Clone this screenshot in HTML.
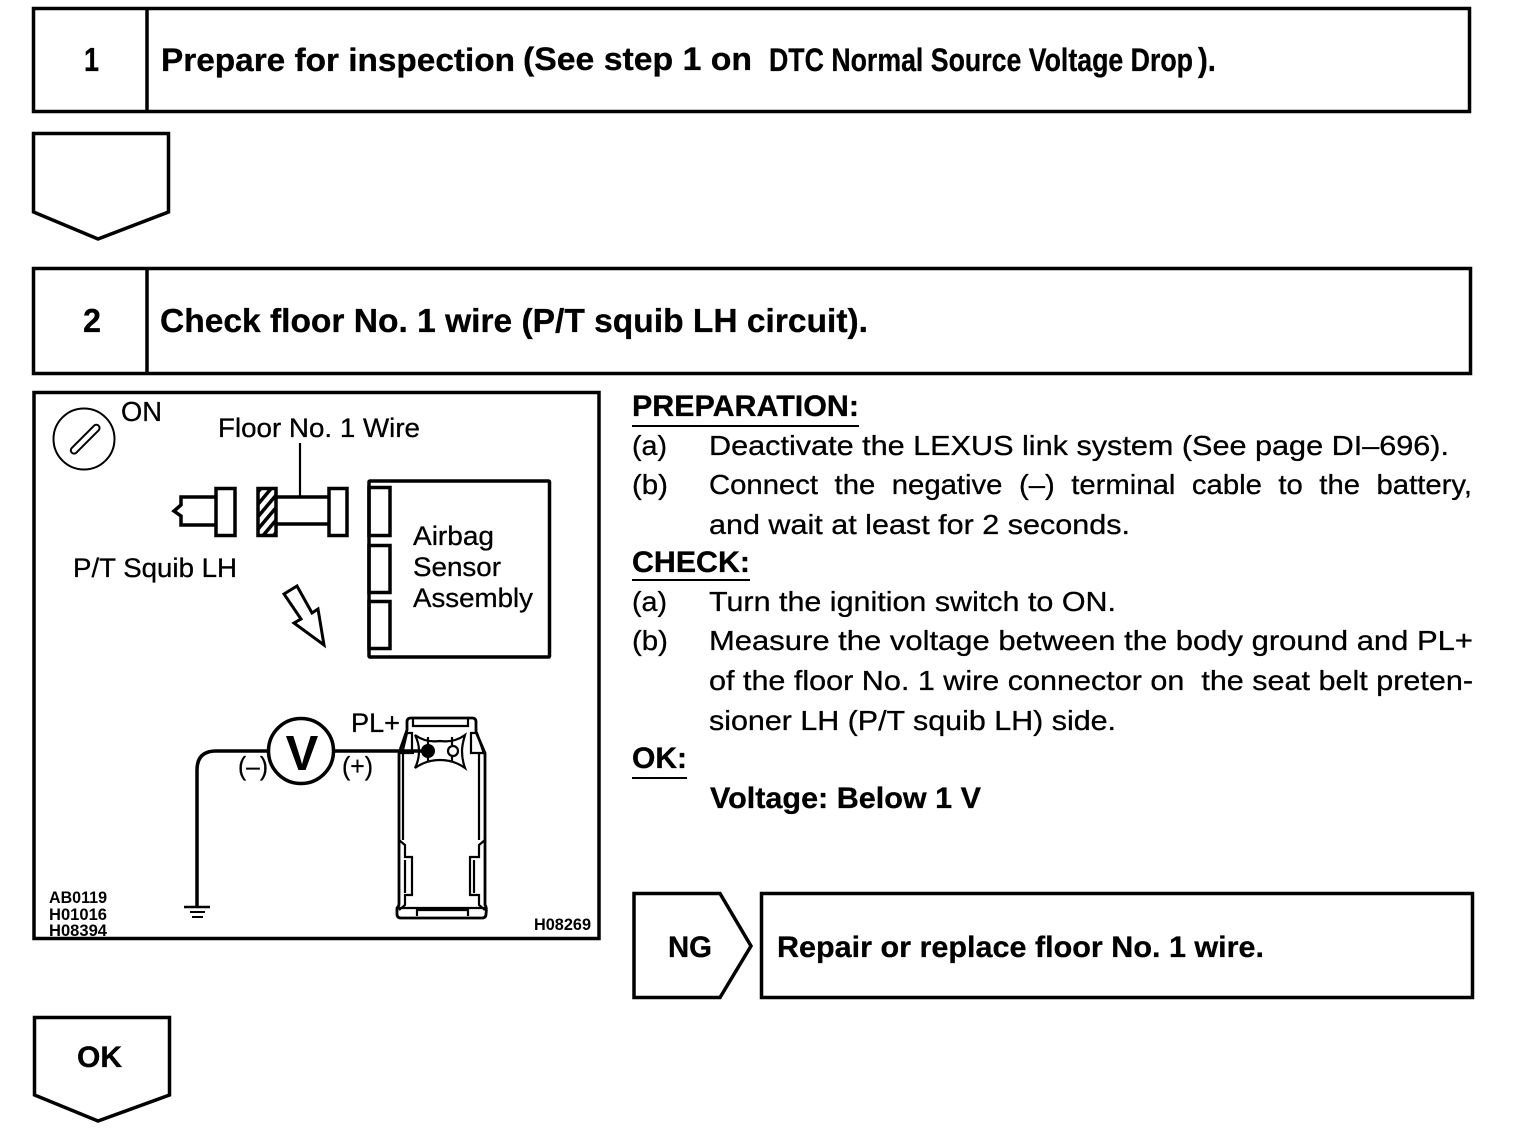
<!DOCTYPE html>
<html lang="en">
<head>
<meta charset="utf-8">
<title>Floor No. 1 wire inspection</title>
<style>
html,body{margin:0;padding:0;background:#fff}
svg{display:block}
text{font-family:"Liberation Sans",sans-serif;fill:#000;stroke:#000;stroke-width:.3}
.h{font-weight:bold;font-size:33px}
.n{font-weight:bold;font-size:30px}
.u{font-weight:bold;font-size:30px}
.b{font-size:28px}
.d{font-size:27px}
.s{font-size:17px;font-weight:bold;stroke-width:0}
.l{fill:none;stroke:#000;stroke-width:3.5}
.t{fill:none;stroke:#000;stroke-width:2}
</style>
</head>
<body>
<svg width="1520" height="1134" viewBox="0 0 1520 1134" xmlns="http://www.w3.org/2000/svg">
<defs>
<pattern id="hatch" width="8" height="8" patternUnits="userSpaceOnUse" patternTransform="rotate(40)">
<rect width="8" height="8" fill="#fff"/>
<rect width="3.500" height="8" fill="#000"/>
</pattern>
</defs>

<!-- Step 1 -->
<rect class="l" x="33.500" y="8.500" width="1436" height="103"/>
<line class="l" x1="147" y1="8" x2="147" y2="112"/>
<text class="h" x="84" y="71" textLength="15" lengthAdjust="spacingAndGlyphs">1</text>
<text class="n" x="161" y="71" textLength="354" lengthAdjust="spacingAndGlyphs" style="font-size:32px">Prepare for inspection</text>
<text class="n" x="523" y="70" textLength="229" lengthAdjust="spacingAndGlyphs" style="font-size:32px">(See step 1 on</text>
<text class="h" x="769" y="71" textLength="424" lengthAdjust="spacingAndGlyphs" style="font-size:32px">DTC Normal Source Voltage Drop</text>
<text class="h" x="1198" y="71" textLength="18" lengthAdjust="spacingAndGlyphs">).</text>

<polygon class="l" points="33.500,133.500 168.500,133.500 168.500,212 98,239 33.500,212"/>

<!-- Step 2 -->
<rect class="l" x="33.500" y="268.500" width="1437" height="105"/>
<line class="l" x1="147" y1="268" x2="147" y2="374"/>
<text class="h" x="83" y="332" textLength="18" lengthAdjust="spacingAndGlyphs">2</text>
<text class="h" x="160" y="332" textLength="708" lengthAdjust="spacingAndGlyphs">Check floor No. 1 wire (P/T squib LH circuit).</text>

<!-- Diagram frame -->
<rect class="l" x="34" y="392.500" width="565" height="546"/>

<!-- Ignition switch -->
<circle class="t" cx="84" cy="439" r="30.500"/>
<rect class="t" x="66" y="436" width="38" height="6.500" rx="3.200" transform="rotate(-45 85 439)"/>
<text class="b" x="121" y="421" textLength="41" lengthAdjust="spacingAndGlyphs">ON</text>

<text class="d" x="218" y="437" textLength="202" lengthAdjust="spacingAndGlyphs">Floor No. 1 Wire</text>
<line x1="300" y1="443" x2="300" y2="497" stroke="#000" stroke-width="2.200"/>

<!-- Squib connector -->
<polyline class="l" points="215,497 181,497 181,505 174,511 181,516 181,525 215,525"/>
<rect class="l" x="216" y="488.500" width="19" height="47"/>
<rect x="258" y="488.500" width="18" height="47" fill="url(#hatch)" stroke="#000" stroke-width="3.500"/>
<line class="l" x1="277" y1="497" x2="328" y2="497"/>
<line class="l" x1="277" y1="524" x2="328" y2="524"/>
<rect class="l" x="329" y="488.500" width="18" height="47"/>

<!-- Airbag sensor -->
<rect class="l" x="369" y="481" width="180.500" height="176" rx="1"/>
<rect class="l" x="369" y="487.500" width="21" height="48"/>
<rect class="l" x="369" y="545.500" width="21" height="47"/>
<rect class="l" x="369" y="601.500" width="21" height="47"/>
<text class="d" x="413" y="545" textLength="81" lengthAdjust="spacingAndGlyphs">Airbag</text>
<text class="d" x="413" y="576" textLength="88" lengthAdjust="spacingAndGlyphs">Sensor</text>
<text class="d" x="413" y="607" textLength="120" lengthAdjust="spacingAndGlyphs">Assembly</text>
<text class="d" x="73" y="577" textLength="164" lengthAdjust="spacingAndGlyphs">P/T Squib LH</text>

<!-- Hollow arrow -->
<polygon class="l" style="stroke-width:3" points="284,594 297,586 312,613 318,609 324,645 294,623 301,619"/>

<!-- Voltmeter and wiring -->
<path class="l" d="M268 751H216Q197 751 197 770V907"/>
<line class="t" x1="184" y1="907" x2="210" y2="907" style="stroke-width:2.500"/>
<line class="t" x1="190" y1="912" x2="205" y2="912"/>
<line class="t" x1="192" y1="917" x2="203" y2="917"/>
<circle class="l" cx="301" cy="751" r="32.500"/>
<text x="302" y="770" text-anchor="middle" style="font-size:49px;font-weight:bold;stroke-width:0">V</text>
<line class="l" x1="334" y1="751" x2="425" y2="751"/>
<text x="238" y="775" textLength="30" lengthAdjust="spacingAndGlyphs" style="font-size:26px">(–)</text>
<text x="342" y="775" textLength="31" lengthAdjust="spacingAndGlyphs" style="font-size:26px">(+)</text>
<text class="d" x="351" y="732" textLength="49" lengthAdjust="spacingAndGlyphs">PL+</text>

<!-- Vehicle -->
<g fill="none" stroke="#000" stroke-width="2.200">
<path d="M407 730V722Q407 718 411 718H472Q476 718 476 722V732L485 753V905Q487 907 486 914Q486 918 482 918H401Q397 918 397 914V908Q399 906 399 904V753L407 730Z" stroke-width="2.800"/>
<path d="M413 719V726H468V719M402 754L407 733H412V754M471 754V733H477L484 754"/>
<path d="M399 753H414M470 753H485M403 754V840M479 754V840"/>
<path d="M399 840L405 845V857H412V895H405V905L399 910M485 840L479 845V857H470V895H479V905L485 910"/>
<path d="M405 860V893M474 860V893M398 908H486M417 916V910H468V916"/>
<path d="M415 735Q426 743 440 741Q454 743 465 735Q462 745 462 751Q462 760 465 768Q454 760 440 760Q426 760 415 768Q419 760 419 751Q419 743 415 735ZM428 737V745M452 737V745M428 757V762M452 757V762"/>
<circle cx="453" cy="751" r="5"/>
</g>
<circle cx="428" cy="751" r="7" fill="#000"/>

<!-- Part codes -->
<text class="s" x="49" y="903" textLength="58" lengthAdjust="spacingAndGlyphs">AB0119</text>
<text class="s" x="49" y="920" textLength="58" lengthAdjust="spacingAndGlyphs">H01016</text>
<text class="s" x="49" y="936" textLength="58" lengthAdjust="spacingAndGlyphs">H08394</text>
<text class="s" x="534" y="930" textLength="57" lengthAdjust="spacingAndGlyphs">H08269</text>

<!-- Right column text -->
<text class="u" x="632" y="416" textLength="227" lengthAdjust="spacingAndGlyphs">PREPARATION:</text>
<line x1="632" y1="426" x2="859" y2="426" stroke="#000" stroke-width="2"/>
<text class="b" x="632" y="455" textLength="35" lengthAdjust="spacingAndGlyphs">(a)</text>
<text class="b" x="709" y="455" textLength="740" lengthAdjust="spacingAndGlyphs">Deactivate the LEXUS link system (See page DI–696).</text>
<text class="b" x="632" y="494" textLength="36" lengthAdjust="spacingAndGlyphs">(b)</text>
<text class="b" x="709" y="494" textLength="763" lengthAdjust="spacingAndGlyphs" style="word-spacing:8px">Connect the negative (–) terminal cable to the battery,</text>
<text class="b" x="709" y="534" textLength="421" lengthAdjust="spacingAndGlyphs">and wait at least for 2 seconds.</text>

<text class="u" x="632" y="572" textLength="118" lengthAdjust="spacingAndGlyphs">CHECK:</text>
<line x1="632" y1="580" x2="750" y2="580" stroke="#000" stroke-width="2"/>
<text class="b" x="632" y="611" textLength="35" lengthAdjust="spacingAndGlyphs">(a)</text>
<text class="b" x="709" y="611" textLength="407" lengthAdjust="spacingAndGlyphs">Turn the ignition switch to ON.</text>
<text class="b" x="632" y="650" textLength="36" lengthAdjust="spacingAndGlyphs">(b)</text>
<text class="b" x="709" y="650" textLength="764" lengthAdjust="spacingAndGlyphs">Measure the voltage between the body ground and PL+</text>
<text class="b" x="709" y="690" textLength="764" lengthAdjust="spacingAndGlyphs" xml:space="preserve">of the floor No. 1 wire connector on  the seat belt preten-</text>
<text class="b" x="709" y="730" textLength="407" lengthAdjust="spacingAndGlyphs">sioner LH (P/T squib LH) side.</text>

<text class="u" x="632" y="768" textLength="55" lengthAdjust="spacingAndGlyphs">OK:</text>
<line x1="632" y1="778" x2="687" y2="778" stroke="#000" stroke-width="2"/>
<text class="u" x="710" y="808" textLength="271" lengthAdjust="spacingAndGlyphs">Voltage: Below 1 V</text>

<!-- NG -->
<polygon class="l" points="634,893.500 720,893.500 751,946 720,997.500 634,997.500"/>
<text class="n" x="668" y="957" textLength="44" lengthAdjust="spacingAndGlyphs">NG</text>
<rect class="l" x="761.500" y="893.500" width="711" height="104"/>
<text class="n" x="777" y="957" textLength="487" lengthAdjust="spacingAndGlyphs">Repair or replace floor No. 1 wire.</text>

<!-- OK -->
<polygon class="l" points="34.500,1017.500 169.500,1017.500 169.500,1095 98,1121 34.500,1095"/>
<text class="n" x="77" y="1067" textLength="45" lengthAdjust="spacingAndGlyphs">OK</text>
</svg>
</body>
</html>
